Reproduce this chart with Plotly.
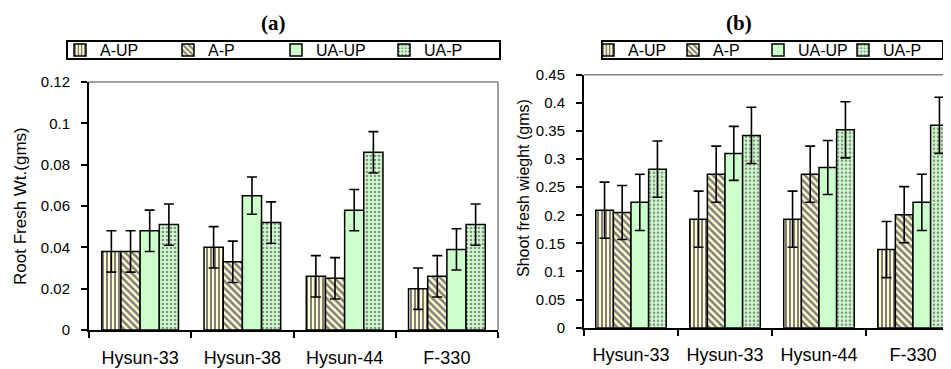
import plotly.graph_objects as go

# ---------------- data ----------------
categories_a = ["Hysun-33", "Hysun-38", "Hysun-44", "F-330"]
categories_b = ["Hysun-33", "Hysun-33", "Hysun-44", "F-330"]
series_names = ["A-UP", "A-P", "UA-UP", "UA-P"]

# (a) Root fresh weight (gms)
root_a_up = [0.038, 0.040, 0.026, 0.020]
root_a_p = [0.038, 0.033, 0.025, 0.026]
root_ua_up = [0.048, 0.065, 0.058, 0.039]
root_ua_p = [0.051, 0.052, 0.086, 0.051]
root_err_a_up = [0.010, 0.010, 0.010, 0.010]
root_err_a_p = [0.010, 0.010, 0.010, 0.010]
root_err_ua_up = [0.010, 0.009, 0.010, 0.010]
root_err_ua_p = [0.010, 0.010, 0.010, 0.010]

# (b) Shoot fresh weight (gms)
shoot_a_up = [0.209, 0.193, 0.193, 0.139]
shoot_a_p = [0.205, 0.273, 0.273, 0.201]
shoot_ua_up = [0.223, 0.310, 0.285, 0.223]
shoot_ua_p = [0.282, 0.342, 0.352, 0.360]
shoot_err_a_up = [0.050, 0.050, 0.050, 0.050]
shoot_err_a_p = [0.048, 0.050, 0.050, 0.050]
shoot_err_ua_up = [0.050, 0.048, 0.048, 0.050]
shoot_err_ua_p = [0.050, 0.050, 0.050, 0.050]

root_ticks = [0, 0.02, 0.04, 0.06, 0.08, 0.1, 0.12]
shoot_ticks = [0, 0.05, 0.1, 0.15, 0.2, 0.25, 0.3, 0.35, 0.4, 0.45]

# ---------------- styles ----------------
OFF = 8  # default page body margin
W, H = 951 - OFF, 369 - OFF
FONT = "Liberation Sans, Arial, sans-serif"
styles = [
    dict(color="#FFFFCC", pattern=dict(shape="|", fgcolor="#7F7F7F", bgcolor="#FFFFCC", size=4, solidity=0.5, fillmode="replace")),
    dict(color="#FFFFCC", pattern=dict(shape="\\", fgcolor="#7F7F7F", bgcolor="#FFFFCC", size=5, solidity=0.5, fillmode="replace")),
    dict(color="#CCFFCC"),
    dict(color="#CCFFCC", pattern=dict(shape=".", fgcolor="#8C8C8C", bgcolor="#CCFFCC", size=4, solidity=0.35, fillmode="replace")),
]

fig = go.Figure()

root_vals = [root_a_up, root_a_p, root_ua_up, root_ua_p]
root_errs = [root_err_a_up, root_err_a_p, root_err_ua_up, root_err_ua_p]
shoot_vals = [shoot_a_up, shoot_a_p, shoot_ua_up, shoot_ua_p]
shoot_errs = [shoot_err_a_up, shoot_err_a_p, shoot_err_ua_up, shoot_err_ua_p]

xa = list(range(len(categories_a)))
xb = list(range(len(categories_b)))

for name, vals, errs, st in zip(series_names, root_vals, root_errs, styles):
    fig.add_trace(go.Bar(
        x=xa, y=vals, name=name, xaxis="x", yaxis="y", legend="legend",
        marker=dict(line=dict(color="black", width=1.5), **st),
        error_y=dict(type="data", array=errs, color="black", thickness=1.6, width=5),
    ))
for name, vals, errs, st in zip(series_names, shoot_vals, shoot_errs, styles):
    fig.add_trace(go.Bar(
        x=xb, y=vals, name=name, xaxis="x2", yaxis="y2", legend="legend2",
        marker=dict(line=dict(color="black", width=1.5), **st),
        error_y=dict(type="data", array=errs, color="black", thickness=1.6, width=5),
    ))

def px_x(v):
    return (v - OFF) / W

def px_y(v):
    return 1 - (v - OFF) / H

xdom_a = [px_x(89), px_x(498)]
xdom_b = [px_x(584), 1.0]
ydom_a = [px_y(330), px_y(82)]
ydom_b = [px_y(327.7), px_y(74.7)]

xaxis_common = dict(
    showline=True, linecolor="black", linewidth=2, showgrid=False, zeroline=False,
    ticks="", tickfont=dict(family=FONT, size=18, color="black"),
    ticklabelstandoff=10, fixedrange=True, automargin=False,
    minor=dict(tickvals=[-0.5, 0.5, 1.5, 2.5, 3.5], ticks="outside", ticklen=6,
               tickwidth=2, tickcolor="black", showgrid=False),
)
yaxis_common = dict(
    showline=True, linecolor="black", linewidth=2, showgrid=False, zeroline=False,
    ticks="outside", ticklen=6, tickwidth=2, tickcolor="black",
    tickfont=dict(family=FONT, size=15, color="black"),
    ticklabelstandoff=8, fixedrange=True, tickmode="array", automargin=False,
)

fig.update_layout(
    width=W, height=H,
    margin=dict(l=0, r=0, t=0, b=0, autoexpand=False),
    paper_bgcolor="white", plot_bgcolor="white",
    barmode="group", bargap=0.25, bargroupgap=0,
    xaxis=dict(domain=xdom_a, anchor="y", range=[-0.5, 3.5],
               tickmode="array", tickvals=xa, ticktext=categories_a, **xaxis_common),
    yaxis=dict(domain=ydom_a, anchor="x", range=[0, 0.12], tickvals=root_ticks, **yaxis_common),
    xaxis2=dict(domain=xdom_b, anchor="y2", range=[-0.5, -0.5 + (951 - 584) / 94.0],
                tickmode="array", tickvals=xb, ticktext=categories_b, **xaxis_common),
    yaxis2=dict(domain=ydom_b, anchor="x2", range=[0, 0.45], tickvals=shoot_ticks, **yaxis_common),
    legend=dict(orientation="h", x=px_x(60), y=px_y(50), xanchor="left", yanchor="middle",
                bgcolor="rgba(0,0,0,0)", borderwidth=0, entrywidth=63, entrywidthmode="pixels",
                itemwidth=30, font=dict(family=FONT, size=16, color="black"), itemclick=False),
    legend2=dict(orientation="h", x=px_x(588), y=px_y(50), xanchor="left", yanchor="middle",
                 bgcolor="rgba(0,0,0,0)", borderwidth=0, entrywidth=40, entrywidthmode="pixels",
                 itemwidth=30, font=dict(family=FONT, size=16, color="black"), itemclick=False),
    showlegend=True,
)

shapes = [
    # legend boxes
    dict(type="rect", xref="paper", yref="paper", x0=px_x(67), x1=px_x(500), y0=px_y(59), y1=px_y(41),
         line=dict(color="black", width=2)),
    dict(type="rect", xref="paper", yref="paper", x0=px_x(602), x1=px_x(943), y0=px_y(59), y1=px_y(41),
         line=dict(color="black", width=2)),
    # grey plot-area frame (top and right)
    dict(type="line", xref="x domain", yref="y domain", x0=0, x1=1, y0=1, y1=1, line=dict(color="#808080", width=1.5)),
    dict(type="line", xref="x domain", yref="y domain", x0=1, x1=1, y0=0, y1=1, line=dict(color="#808080", width=1.5)),
    dict(type="line", xref="x2 domain", yref="y2 domain", x0=0, x1=1, y0=1, y1=1, line=dict(color="#808080", width=1.5)),
]
fig.update_layout(shapes=shapes)

annotations = [
    dict(text="<b>(a)</b>", x=px_x(273), y=px_y(23), xref="paper", yref="paper", showarrow=False,
         xanchor="center", yanchor="middle",
         font=dict(family="Liberation Serif, Times New Roman, serif", size=21, color="black")),
    dict(text="<b>(b)</b>", x=px_x(739), y=px_y(23), xref="paper", yref="paper", showarrow=False,
         xanchor="center", yanchor="middle",
         font=dict(family="Liberation Serif, Times New Roman, serif", size=21, color="black")),
    dict(text="Root Fresh Wt.(gms)", x=px_x(20), y=px_y(206), xref="paper", yref="paper", showarrow=False,
         xanchor="center", yanchor="middle",
         textangle=-90, font=dict(family=FONT, size=17, color="black")),
    dict(text="Shoot fresh wieght (gms)", x=px_x(523), y=px_y(188), xref="paper", yref="paper", showarrow=False,
         xanchor="center", yanchor="middle",
         textangle=-90, font=dict(family=FONT, size=16, color="black")),
]
fig.update_layout(annotations=annotations)

fig.write_html("out.html")
